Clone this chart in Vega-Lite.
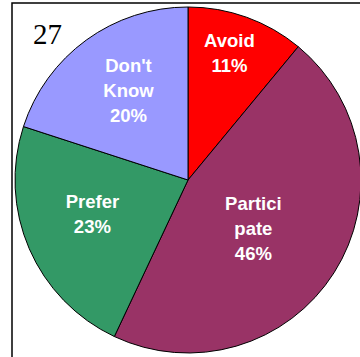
{
  "$schema": "https://vega.github.io/schema/vega-lite/v6.json",
  "autosize": "none",
  "padding": {"left": 12, "top": 3, "right": 0, "bottom": 0},
  "width": 352,
  "height": 362,
  "background": "white",
  "view": {"stroke": "#000000", "strokeWidth": 1.5},
  "title": {
    "text": "27",
    "anchor": "start",
    "frame": "group",
    "orient": "top",
    "offset": -70,
    "dx": 21,
    "baseline": "alphabetic",
    "font": "Liberation Serif",
    "fontSize": 29,
    "fontWeight": "normal",
    "color": "#000000"
  },
  "data": {
    "values": [
      {"idx": 1, "category": "Avoid", "label": "Avoid\n11%", "pct": 11},
      {"idx": 2, "category": "Participate", "label": "Partici\npate\n46%", "pct": 46},
      {"idx": 3, "category": "Prefer", "label": "Prefer\n23%", "pct": 23},
      {"idx": 4, "category": "Don't Know", "label": "Don't\nKnow\n20%", "pct": 20}
    ]
  },
  "encoding": {
    "theta": {"field": "pct", "type": "quantitative", "stack": true},
    "order": {"field": "idx", "type": "quantitative"}
  },
  "layer": [
    {
      "mark": {"type": "arc", "outerRadius": 173, "yOffset": -4, "stroke": "#000000", "strokeWidth": 1},
      "encoding": {
        "color": {
          "field": "category",
          "type": "nominal",
          "scale": {
            "domain": ["Avoid", "Participate", "Prefer", "Don't Know"],
            "range": ["#FF0000", "#993366", "#339966", "#9999FF"]
          },
          "legend": null
        }
      }
    },
    {
      "mark": {"type": "text", "radius": 134, "dx": -4, "dy": -17, "lineBreak": "\n", "lineHeight": 25, "font": "Liberation Sans", "fontWeight": "bold", "fontSize": 18.5, "color": "#FFFFFF", "align": "center", "baseline": "middle"},
      "encoding": {"text": {"condition": {"test": "datum.category === 'Avoid'", "field": "label"}, "value": ""}}
    },
    {
      "mark": {"type": "text", "radius": 81, "dx": -3, "dy": -23, "lineBreak": "\n", "lineHeight": 25, "font": "Liberation Sans", "fontWeight": "bold", "fontSize": 18.5, "color": "#FFFFFF", "align": "center", "baseline": "middle"},
      "encoding": {"text": {"condition": {"test": "datum.category === 'Participate'", "field": "label"}, "value": ""}}
    },
    {
      "mark": {"type": "text", "radius": 102, "dx": -2, "dy": -22.5, "lineBreak": "\n", "lineHeight": 25, "font": "Liberation Sans", "fontWeight": "bold", "fontSize": 18.5, "color": "#FFFFFF", "align": "center", "baseline": "middle"},
      "encoding": {"text": {"condition": {"test": "datum.category === 'Prefer'", "field": "label"}, "value": ""}}
    },
    {
      "mark": {"type": "text", "radius": 108, "dx": 4, "dy": -31, "lineBreak": "\n", "lineHeight": 25, "font": "Liberation Sans", "fontWeight": "bold", "fontSize": 18.5, "color": "#FFFFFF", "align": "center", "baseline": "middle"},
      "encoding": {"text": {"condition": {"test": "datum.category === \"Don't Know\"", "field": "label"}, "value": ""}}
    }
  ]
}
